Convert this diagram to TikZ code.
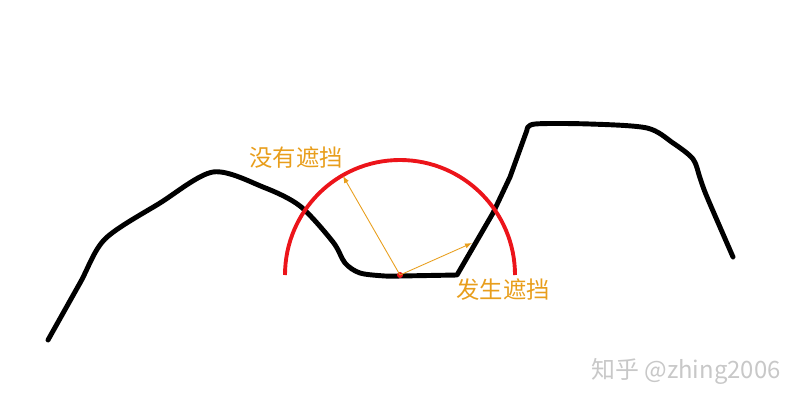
\documentclass[tikz,border=0pt]{standalone}
\usepackage{fontspec}
\newfontfamily\cjk{Noto Sans CJK SC}
\usetikzlibrary{arrows.meta}

\definecolor{labelorange}{RGB}{232,158,28}
\definecolor{arcred}{RGB}{236,20,26}
\definecolor{markgray}{RGB}{200,200,200}

\begin{document}
\begin{tikzpicture}[x=0.02cm,y=-0.02cm,
    terrain/.style = {draw=black,line width=2.8pt,line cap=round,line join=round},
    view/.style = {draw=arcred,line width=2.2pt},
    ray/.style = {draw=labelorange,line width=0.5pt,-{Latex[length=4pt,width=3pt]}},
    tag/.style = {text=labelorange,font=\cjk\fontsize{13.3}{15}\selectfont,inner sep=0pt}]
			\useasboundingbox (0,0) rectangle (800,406);
			% terrain profile
			\draw[terrain] plot[smooth,tension=0.5] coordinates {(48,340) (80,283) (105,239) (160,203) (213,172) (263,187) (300,206) (333,242) (345,263) (360,273) (385,276) (400,276)}
				-- (457,275) -- (493,213) -- (510,177) -- (527,130)
				plot[smooth,tension=0.5] coordinates {(527,130) (535,124) (590,124) (647,128) (673,143) (693,159) (700,178) (707,197) (733,257)};
			% view range
			\coordinate (eye) at (400,275);
			\draw[view] (285,275) arc[start angle=180,end angle=360,radius=115];
			\fill[arcred] (eye) circle (3);
			\coordinate (free) at (343,176);
			\coordinate (hit)  at (472,243);
			\draw[ray] (eye) -- (free);
			\draw[ray] (eye) -- (hit);
			\node (ok)   at (296,158) [tag] {没有遮挡};
			\node (bad)  at (503,290) [tag] {发生遮挡};
			\node (mark) at (686,371) [text=markgray,font=\cjk\fontsize{13.6}{16}\selectfont,inner sep=0pt] {知乎 @zhing2006};
		\end{tikzpicture}
\end{document}
